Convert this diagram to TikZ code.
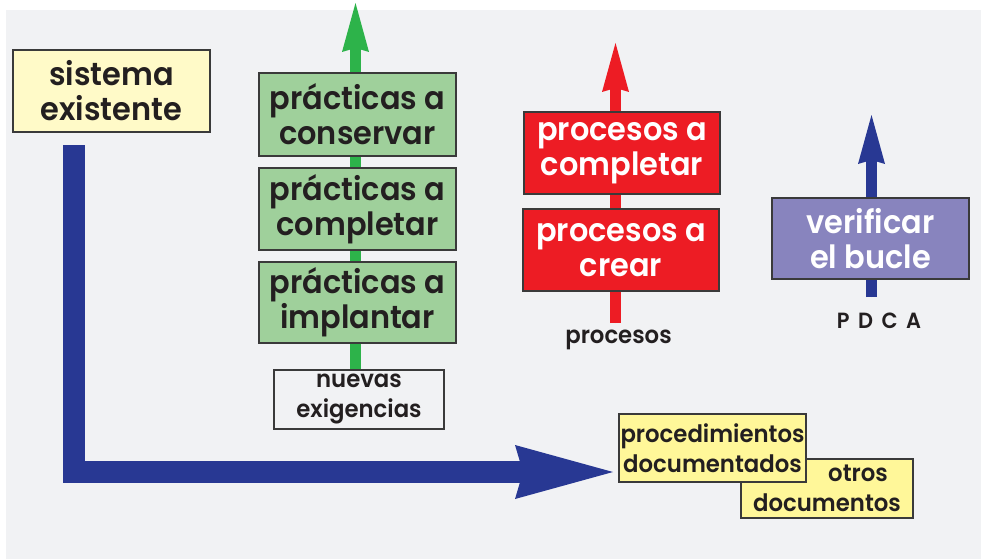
\documentclass[tikz,border=0pt]{standalone}
\usepackage{fontspec}
\setmainfont{Poppins}[FakeStretch=0.95, BoldFont={Poppins SemiBold}]
\usetikzlibrary{arrows.meta}
\pgfdeclarelayer{bg}
\pgfsetlayers{bg,main}
\definecolor{bgc}{HTML}{F1F2F4}
\definecolor{txt}{HTML}{231F20}
\definecolor{paleyel}{HTML}{FFFAC8}
\definecolor{yel}{HTML}{FFF799}
\definecolor{gfill}{HTML}{9FD09B}
\definecolor{garr}{HTML}{2DB34A}
\definecolor{red1}{HTML}{ED1C24}
\definecolor{blu}{HTML}{283893}
\definecolor{purp}{HTML}{8884BE}
\definecolor{edge}{HTML}{3A3A3A}
\tikzset{
  box/.style={draw=edge, line width=1.2pt, inner sep=0pt, align=center, text=txt},
  bigtxt/.style={font=\fontsize{32}{35}\selectfont\bfseries},
  smalltxt/.style={font=\fontsize{24}{30}\selectfont\bfseries},
  upar/.style={line width=11pt, -{Stealth[length=49pt, width=27pt, inset=4pt, line width=0pt]}},
}
\begin{document}
\begin{tikzpicture}[x=1pt,y=-1pt]
\useasboundingbox (0,0) rectangle (981,559);
% nodes
\node[box, bigtxt, fill=paleyel, minimum width=197pt, minimum height=82pt] (sys) at (111.5,91) {sistema\\existente};
\node[box, bigtxt, fill=gfill, minimum width=197pt, minimum height=83pt] (g1) at (357.5,114.5) {prácticas a\\conservar};
\node[box, bigtxt, fill=gfill, minimum width=197pt, minimum height=82pt] (g2) at (357.5,209) {prácticas a\\completar};
\node[box, bigtxt, fill=gfill, minimum width=197pt, minimum height=81pt] (g3) at (357.5,302.5) {prácticas a\\implantar};
\node[box, smalltxt, fill=bgc, minimum width=170pt, minimum height=59pt] (nuevas) at (359,399.5) {nuevas\\exigencias};
\node[box, bigtxt, fill=red1, text=white, minimum width=196pt, minimum height=82pt] (r1) at (622,153) {procesos a\\completar};
\node[box, bigtxt, fill=red1, text=white, minimum width=196pt, minimum height=82pt] (r2) at (621,250) {procesos a\\crear};
\node[smalltxt, text=txt, anchor=base, inner sep=0pt] (proclab) at (618.5,343) {procesos};
\node[box, bigtxt, fill=purp, text=white, minimum width=197pt, minimum height=81pt] (verif) at (870.5,238.5) {verificar\\el bucle};
\node[font=\fontsize{22}{24}\selectfont\bfseries, text=txt, anchor=base, inner sep=0pt] (pdca) at (879,328) {P\hspace{8.5pt}D\hspace{8.5pt}C\hspace{8.5pt}A};
\node[box, smalltxt, fill=yel, minimum width=172pt, minimum height=59pt] (otros) at (827,488.5) {\hspace*{62pt}otros\\documentos};
\node[box, smalltxt, fill=yel, minimum width=187pt, minimum height=68pt] (proc) at (712.5,448) {procedimientos\\documentados};
% arrow coordinates
\coordinate (gbot) at (355.5,373);
\coordinate (gtip) at (355.5,3);
\coordinate (rbot) at (615.5,323);
\coordinate (rtip) at (615.5,43);
\coordinate (bbot) at (871.5,297);
\coordinate (btip) at (871.5,115);
\coordinate (Lstart) at (73.5,145);
\coordinate (Ltip) at (613,472);
\begin{pgfonlayer}{bg}
\fill[bgc] (6,10) rectangle (981,559);
\draw[upar, draw=garr, fill=garr] (gbot) -- (gtip);
\draw[upar, draw=red1, fill=red1] (rbot) -- (rtip);
\draw[upar, draw=blu, fill=blu] (bbot) -- (btip);
\draw[blu, line width=22pt, line join=miter, -{Stealth[length=98pt, width=54pt, inset=8pt, line width=0pt]}] (Lstart) |- (Ltip);
\end{pgfonlayer}
\end{tikzpicture}
\end{document}
